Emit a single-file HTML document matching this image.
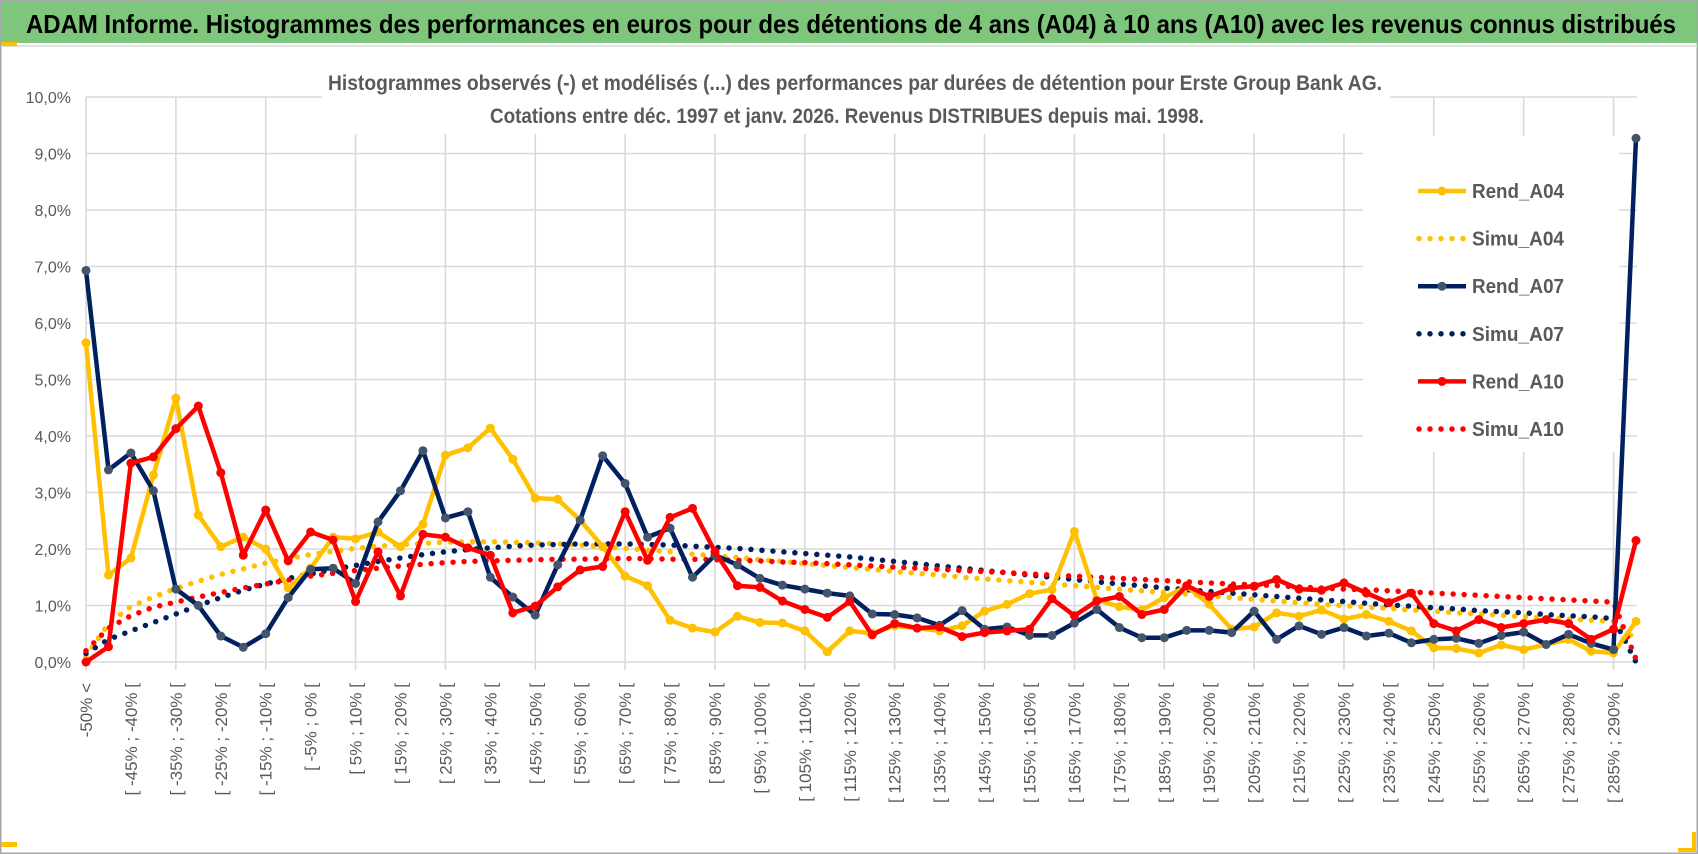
<!DOCTYPE html>
<html><head><meta charset="utf-8">
<style>
html,body{margin:0;padding:0;background:#fff;}
svg{display:block;font-family:"Liberation Sans",sans-serif;}
</style></head>
<body>
<svg id="chart" width="1698" height="854" viewBox="0 0 1698 854" xmlns="http://www.w3.org/2000/svg">
<rect x="0.5" y="0.5" width="1697" height="853" fill="#fff" stroke="#a6a6a6" stroke-width="2"/>
<rect x="1" y="1" width="1696" height="42" fill="#7dc67b"/>
<line x1="1" y1="46" x2="1697" y2="46" stroke="#e0e0e0" stroke-width="2"/>
<rect x="1" y="42" width="16" height="4" fill="#ffc000"/>
<rect x="1" y="842" width="16" height="5" fill="#ffc000"/>
<path d="M1694 832 V850 H1678" fill="none" stroke="#ffc000" stroke-width="4"/>
<text x="26" y="33" font-size="26" font-weight="bold" fill="#000" textLength="1650" lengthAdjust="spacingAndGlyphs">ADAM Informe. Histogrammes des performances en euros pour des détentions de 4 ans (A04) à 10 ans (A10) avec les revenus connus distribués</text>
<g id="grid"></g>
<rect x="322" y="60" width="1068" height="74" fill="#fff"/>
<text x="328" y="90" font-size="21" font-weight="bold" fill="#595959" textLength="1054" lengthAdjust="spacingAndGlyphs">Histogrammes observés (-) et modélisés (...) des performances par durées de détention pour Erste Group Bank AG.</text>
<text x="490" y="123" font-size="21" font-weight="bold" fill="#595959" textLength="714" lengthAdjust="spacingAndGlyphs">Cotations entre déc. 1997 et janv. 2026. Revenus DISTRIBUES depuis mai. 1998.</text>
<rect x="1363" y="136" width="256" height="316" fill="#fff"/>
<g id="axes"></g>
<g id="series"></g>
<g id="legend"></g>
</svg>
<script>
const yTicks = [0,1,2,3,4,5,6,7,8,9,10];
const yTickLabels = ["0,0%","1,0%","2,0%","3,0%","4,0%","5,0%","6,0%","7,0%","8,0%","9,0%","10,0%"];
const rendA04 = [5.65,1.54,1.84,3.31,4.67,2.6,2.04,2.21,2.0,1.31,1.66,2.21,2.18,2.3,2.04,2.44,3.66,3.79,4.14,3.59,2.9,2.88,2.51,2.04,1.52,1.35,0.74,0.6,0.53,0.81,0.7,0.69,0.55,0.18,0.55,0.51,0.64,0.6,0.55,0.64,0.9,1.02,1.21,1.28,2.31,1.1,0.98,0.92,1.14,1.34,1.02,0.58,0.62,0.87,0.81,0.92,0.76,0.84,0.72,0.55,0.25,0.24,0.16,0.3,0.22,0.31,0.4,0.19,0.16,0.72];
const simuA04 = [0.1,0.68,0.98,1.15,1.3,1.43,1.55,1.65,1.75,1.83,1.9,1.96,2.01,2.05,2.08,2.1,2.12,2.13,2.13,2.12,2.11,2.09,2.07,2.04,2.01,1.98,1.95,1.91,1.88,1.85,1.81,1.78,1.74,1.71,1.67,1.64,1.6,1.57,1.54,1.5,1.47,1.44,1.41,1.38,1.35,1.32,1.29,1.26,1.23,1.2,1.17,1.14,1.11,1.08,1.05,1.02,1.0,0.97,0.95,0.92,0.9,0.87,0.85,0.83,0.8,0.78,0.76,0.74,0.72,0.4];
const rendA07 = [6.93,3.4,3.7,3.03,1.29,1.0,0.46,0.26,0.5,1.14,1.64,1.66,1.39,2.48,3.03,3.74,2.55,2.66,1.5,1.15,0.83,1.72,2.51,3.65,3.16,2.21,2.37,1.5,1.89,1.72,1.48,1.36,1.29,1.22,1.17,0.85,0.84,0.78,0.65,0.91,0.58,0.62,0.47,0.47,0.69,0.93,0.61,0.43,0.43,0.56,0.56,0.52,0.9,0.4,0.64,0.49,0.61,0.46,0.51,0.34,0.4,0.42,0.33,0.47,0.53,0.31,0.49,0.33,0.22,9.27];
const simuA07 = [0.15,0.4,0.55,0.7,0.85,1.0,1.14,1.27,1.38,1.48,1.56,1.64,1.71,1.78,1.84,1.9,1.95,1.99,2.02,2.05,2.07,2.08,2.09,2.09,2.09,2.08,2.07,2.05,2.03,2.01,1.98,1.95,1.92,1.89,1.86,1.82,1.78,1.74,1.7,1.66,1.62,1.58,1.54,1.5,1.46,1.42,1.38,1.35,1.31,1.28,1.25,1.22,1.19,1.16,1.13,1.1,1.07,1.04,1.01,0.99,0.96,0.94,0.91,0.89,0.87,0.84,0.82,0.8,0.77,0.0];
const rendA10 = [0.0,0.27,3.52,3.63,4.13,4.53,3.35,1.89,2.69,1.79,2.3,2.16,1.07,1.95,1.17,2.26,2.21,2.02,1.89,0.87,0.99,1.33,1.63,1.69,2.66,1.8,2.56,2.72,1.95,1.35,1.32,1.08,0.93,0.79,1.07,0.48,0.68,0.6,0.62,0.45,0.52,0.55,0.58,1.12,0.82,1.08,1.16,0.84,0.93,1.35,1.16,1.31,1.34,1.46,1.29,1.27,1.4,1.22,1.05,1.22,0.68,0.55,0.75,0.61,0.68,0.75,0.68,0.4,0.58,2.15];
const simuA10 = [0.2,0.6,0.82,0.97,1.06,1.15,1.23,1.31,1.38,1.45,1.52,1.57,1.62,1.66,1.7,1.73,1.76,1.78,1.79,1.8,1.81,1.82,1.82,1.83,1.83,1.83,1.82,1.82,1.81,1.8,1.79,1.77,1.76,1.74,1.72,1.7,1.68,1.66,1.64,1.62,1.6,1.58,1.56,1.54,1.52,1.5,1.48,1.46,1.44,1.42,1.4,1.38,1.37,1.35,1.33,1.31,1.29,1.28,1.26,1.24,1.22,1.2,1.18,1.16,1.14,1.12,1.1,1.08,1.06,0.05];
const categories = ["-50% <"];
for (let k = 1; k < 70; k++) { const a = -50 + 5 * (k - 1); categories.push("[ " + a + "% ; " + (a + 5) + "% ["); }

const NS = "http://www.w3.org/2000/svg";
const X0 = 86, X1 = 1636, Y0 = 662, Y1 = 97, YMAX = 10;
const xPos = i => X0 + i * (X1 - X0) / (categories.length - 1);
const yPos = v => Y0 - v * (Y0 - Y1) / YMAX;
function mk(tag, attrs, parent) { const e = document.createElementNS(NS, tag); for (const k in attrs) e.setAttribute(k, attrs[k]); parent.appendChild(e); return e; }

const grid = document.getElementById("grid");
yTicks.forEach((t, i) => {
  const l = mk("line", {x1: X0, x2: X1 + 1, y1: yPos(t), y2: yPos(t), stroke: "#d9d9d9", "stroke-width": 1.6}, grid);
  
  
});
for (let i = 0; i < categories.length; i += 4) {
  const l = mk("line", {x1: xPos(i), x2: xPos(i), y1: Y1, y2: Y0 + 8, stroke: "#d9d9d9", "stroke-width": 1.6}, grid);
  
  
}
const axes = document.getElementById("axes");
yTicks.forEach((t, i) => {
  const tx = mk("text", {x: 71, y: yPos(t) + 6, "text-anchor": "end", "font-size": 16, fill: "#595959"}, axes);
  tx.textContent = yTickLabels[i];
  
  
});
for (let i = 0; i < categories.length; i += 2) {
  const x = xPos(i) + 6, y = 683;
  const tx = mk("text", {x: x, y: y, "text-anchor": "end", "font-size": 17, fill: "#595959", transform: "rotate(-90 " + x + " " + y + ")"}, axes);
  tx.textContent = categories[i];
  
  
}

const series = document.getElementById("series");
function pts(vals) { return vals.map((v, i) => xPos(i).toFixed(1) + "," + yPos(v).toFixed(1)).join(" "); }
function dotted(vals, color, name) {
  const p = mk("polyline", {points: pts(vals), fill: "none", stroke: color, "stroke-width": 5.5, "stroke-linecap": "round", "stroke-dasharray": "0 11"}, series);
  
  
}
function solid(vals, color, mcolor, name) {
  const p = mk("polyline", {points: pts(vals), fill: "none", stroke: color, "stroke-width": 4.5, "stroke-linejoin": "round"}, series);
  
  
  vals.forEach((v, i) => {
    const c = mk("circle", {cx: xPos(i), cy: yPos(v), r: 4.5, fill: mcolor}, series);
    
    
  });
}
dotted(simuA04, "#ffc000", "simu-a04-line");
dotted(simuA07, "#002060", "simu-a07-line");
dotted(simuA10, "#ff0000", "simu-a10-line");
solid(rendA04, "#ffc000", "#ffc000", "rend-a04-line");
solid(rendA07, "#002060", "#44546a", "rend-a07-line");
solid(rendA10, "#ff0000", "#ff0000", "rend-a10-line");

const legend = document.getElementById("legend");
const legNames = ["Rend_A04","Simu_A04","Rend_A07","Simu_A07","Rend_A10","Simu_A10"];
const legColors = ["#ffc000","#ffc000","#002060","#002060","#ff0000","#ff0000"];
const legMarker = ["#ffc000","","#44546a","","#ff0000",""];
legNames.forEach((n, i) => {
  const y = 191 + i * 47.6;
  const g = mk("g", {}, legend);
  
  
  if (legMarker[i]) {
    mk("line", {x1: 1418, x2: 1466, y1: y, y2: y, stroke: legColors[i], "stroke-width": 4.5}, g);
    mk("circle", {cx: 1442, cy: y, r: 4.5, fill: legMarker[i]}, g);
  } else {
    mk("line", {x1: 1419, x2: 1466, y1: y, y2: y, stroke: legColors[i], "stroke-width": 5.5, "stroke-linecap": "round", "stroke-dasharray": "0 11"}, g);
  }
  const t = mk("text", {x: 1472, y: y + 7, "font-size": 20, "font-weight": "bold", fill: "#595959", textLength: 92, lengthAdjust: "spacingAndGlyphs"}, g);
  t.textContent = n;
});
</script>
</body></html>
